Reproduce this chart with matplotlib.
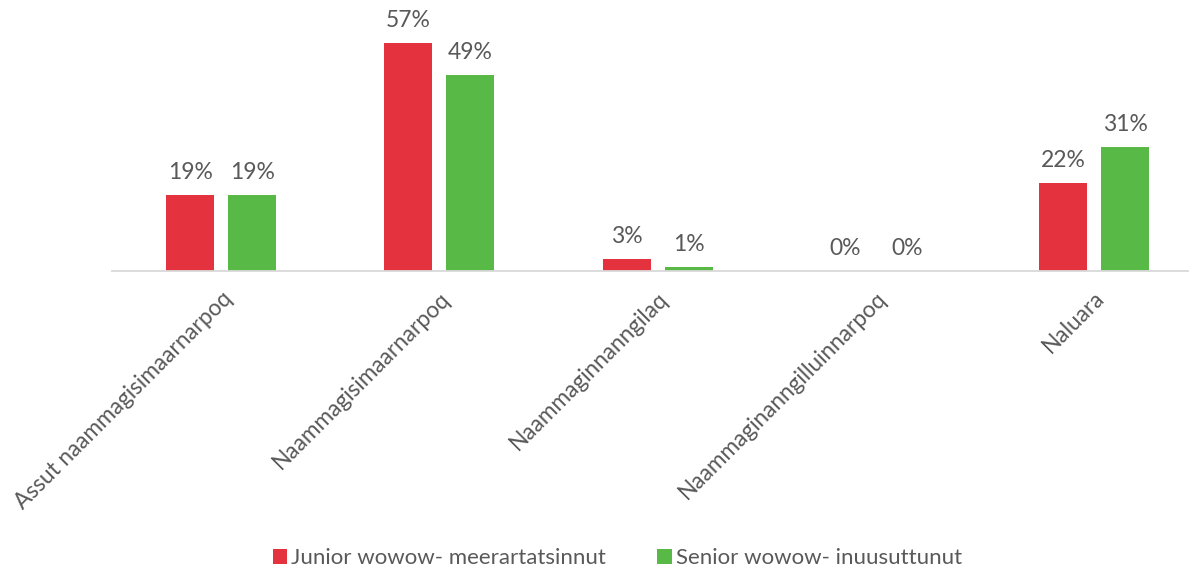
import numpy as np
import matplotlib.pyplot as plt

plt.rcParams['font.family'] = ['Lato', 'DejaVu Sans']

categories = ["Assut naammagisimaarnarpoq", "Naammagisimaarnarpoq", "Naammaginnanngilaq",
              "Naammaginanngilluinnarpoq", "Naluara"]
junior = [19, 57, 3, 0, 22]
senior = [19, 49, 1, 0, 31]
series_names = ["Junior wowow- meerartatsinnut", "Senior wowow- inuusuttunut"]

red = '#E5323F'
green = '#58B947'
text_col = '#595959'

fig = plt.figure(figsize=(11.99, 5.74), dpi=100)
ax = fig.add_axes([112 / 1199, 1 - 271 / 574, 1076 / 1199, 240 / 574])

x = np.arange(len(categories))
w = 0.22
off = 0.142
b1 = ax.bar(x - off, junior, w, color=red, label=series_names[0])
b2 = ax.bar(x + off, senior, w, color=green, label=series_names[1])

# percentage labels above each bar
for bars, vals in ((b1, junior), (b2, senior)):
    for rect, v in zip(bars, vals):
        ax.text(rect.get_x() + rect.get_width() / 2, v + 3.0, f"{v}%",
                ha='center', va='bottom', fontsize=16.5, color=text_col, clip_on=False)

ax.set_xlim(-0.5, 4.43)
ax.set_ylim(0, 60)
ax.set_yticks([])
ax.set_xticks(x)
ax.set_xticklabels(categories, rotation=45, ha='right', va='top',
                   rotation_mode='anchor', fontsize=16.3, color=text_col)
ax.tick_params(axis='x', length=0, pad=12)
for s in ('top', 'right', 'left'):
    ax.spines[s].set_visible(False)
ax.spines['bottom'].set_color('#d9d9d9')
ax.spines['bottom'].set_linewidth(1.3)

leg = fig.legend(loc='center', bbox_to_anchor=(0.515, 1 - 558 / 574), ncol=2, frameon=False,
                 fontsize=16, handlelength=0.65, handleheight=0.65, handletextpad=0.2,
                 columnspacing=2.3)
for t in leg.get_texts():
    t.set_color(text_col)

fig.savefig("out.png", dpi=100)
